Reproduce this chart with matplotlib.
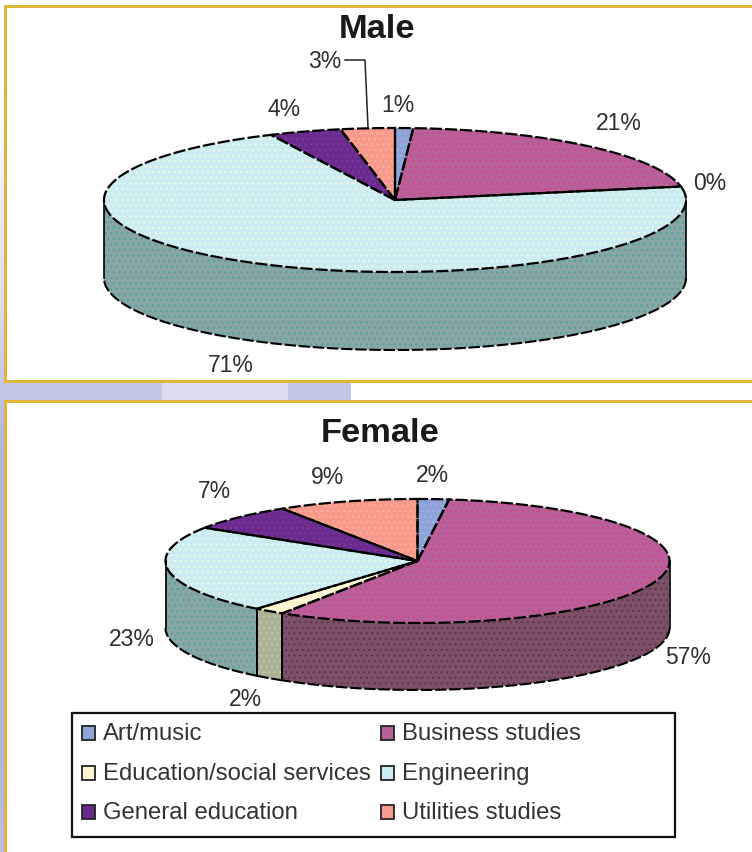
import numpy as np
import matplotlib
matplotlib.use("Agg")
import matplotlib.pyplot as plt
from matplotlib.patches import Polygon, Rectangle

# Share of graduates by field of study
categories = ["Art/music", "Business studies", "Education/social services",
              "Engineering", "General education", "Utilities studies"]
male_values = [1, 21, 0, 71, 4, 3]
female_values = [2, 57, 2, 23, 7, 9]

top_colors = ["#8ea4d8", "#b8609a", "#fdf5cf", "#cbecf2", "#6a2a8e", "#f79a8c"]
top_speckle = ["#9fb2e0", "#cf4a84", "#fffbe6", "#eef9e4", "#7a3a9c", "#fbb0a0"]
side_colors = ["#62708f", "#7c5068", "#adb196", "#87a6a4", "#4a2a60", "#a87068"]
side_speckle = ["#6f7da0", "#5f3549", "#c4c8ac", "#4fa3a6", "#5a3a70", "#b88078"]

GOLD = "#dfb53a"
LAVENDER = np.array([0xae, 0xb6, 0xde]) / 255
plt.rcParams["font.family"] = ["Liberation Sans", "DejaVu Sans"]
plt.rcParams["hatch.linewidth"] = 0.8

W, H = 752, 852
fig = plt.figure(figsize=(W / 100, H / 100), dpi=100, facecolor="white")
ax = fig.add_axes([0, 0, 1, 1])

# Slide background showing through round the panels
mix = np.interp(np.arange(H), [0, 90, 300, 450, 760, 852], [0.0, 0.0, 0.45, 1.0, 1.0, 0.85])
rgb = 1 - mix[:, None, None] * (1 - LAVENDER[None, None, :])
ax.imshow(rgb, extent=(0, 4, H, 0), aspect="auto", zorder=0)
for x0, x1, c in [(0, 162, "#c0c6e6"), (162, 288, "#dcdff1"), (288, 351, "#c0c6e6")]:
    ax.add_patch(Rectangle((x0, 383), x1 - x0, 17, fc=c, ec="none", zorder=0))

# Panel frames
for (x0, y0, x1, y1) in [(4, 5, W, 8), (4, 380, W, 383), (4, 400, W, 403), (4, 5, 7, 383), (4, 400, 7, H)]:
    ax.add_patch(Rectangle((x0, y0), x1 - x0, y1 - y0, fc=GOLD, ec="none", zorder=1))

DASH = (0, (5.5, 1.3))


def arc(theta, cx, cy, a, b, drop=0.0):
    return cx + a * np.sin(theta), cy - b * np.cos(theta) + drop


def draw_pie(values, cx, cy, a, b, depth):
    edges = np.cumsum([0] + list(values)) / sum(values) * 2 * np.pi

    # Rim: only the front half of the disc is visible
    for i, (t0, t1) in enumerate(zip(edges[:-1], edges[1:])):
        lo, hi = max(t0, np.pi / 2), min(t1, 3 * np.pi / 2)
        if hi <= lo:
            continue
        t = np.linspace(lo, hi, 120)
        xt, yt = arc(t, cx, cy, a, b)
        xb, yb = arc(t, cx, cy, a, b, depth)
        pts = np.column_stack([np.r_[xt, xb[::-1]], np.r_[yt, yb[::-1]]])
        ax.add_patch(Polygon(pts, fc=side_colors[i], ec=side_speckle[i], hatch="...", lw=0, zorder=3))
        ax.plot(xb, yb, color="black", lw=1.5, ls=DASH, zorder=5)
        ax.plot([xb[0], xb[0]], [yt[0], yb[0]], color="black", lw=1.2, zorder=5)
        ax.plot([xb[-1], xb[-1]], [yt[-1], yb[-1]], color="black", lw=1.2, zorder=5)

    # Top face
    for i, (t0, t1) in enumerate(zip(edges[:-1], edges[1:])):
        if t1 <= t0:
            continue
        t = np.linspace(t0, t1, max(8, int((t1 - t0) * 80)))
        x, y = arc(t, cx, cy, a, b)
        pts = np.column_stack([np.r_[cx, x], np.r_[cy, y]])
        ax.add_patch(Polygon(pts, fc=top_colors[i], ec=top_speckle[i], hatch="...", lw=0, zorder=4))
        ax.add_patch(Polygon(pts, fc="none", ec="black", lw=1.6, ls=DASH, zorder=6))


draw_pie(male_values, 395, 200, 291, 72, 78)
draw_pie(female_values, 417.5, 561, 252, 62, 67)

# Percentage labels
TEXT = "#2e2e2e"
male_label_xy = [(398, 105), (619, 123), (710, 183), (231, 366), (284, 109), (325, 62)]
female_label_xy = [(432, 476), (688, 657), (245, 699), (132, 639), (214, 491), (327, 478)]
for vals, spots in [(male_values, male_label_xy), (female_values, female_label_xy)]:
    for v, (x, y) in zip(vals, spots):
        ax.text(x, y, f"{v}%", ha="center", va="center", fontsize=16.5, color=TEXT, zorder=8)

# Leader line for the small utilities slice
ax.plot([345, 365, 368], [60, 60, 127], color="#222222", lw=1.1, zorder=7)

# Titles
ax.text(377, 29, "Male", ha="center", va="center", fontsize=24.8, fontweight="bold", color="#1a1a1a", zorder=8)
ax.text(380, 434, "Female", ha="center", va="center", fontsize=24.8, fontweight="bold", color="#1a1a1a", zorder=8)

# Legend
ax.add_patch(Rectangle((72, 713), 603, 124, fc="white", ec="#111111", lw=1.6, zorder=7))
legend_cols = [82, 381]
legend_rows = [733, 773, 812]
for i, name in enumerate(categories):
    sx, sy = legend_cols[i % 2], legend_rows[i // 2]
    ax.add_patch(Rectangle((sx, sy - 7), 13, 14, fc=top_colors[i], ec="#222222", lw=1.3, zorder=8))
    ax.text(sx + 21, sy + 1, name, ha="left", va="center", fontsize=17.2, color="#333333", zorder=8)

ax.set_xlim(0, W)
ax.set_ylim(H, 0)
ax.axis("off")
fig.savefig("out.png", dpi=100, facecolor="white")
